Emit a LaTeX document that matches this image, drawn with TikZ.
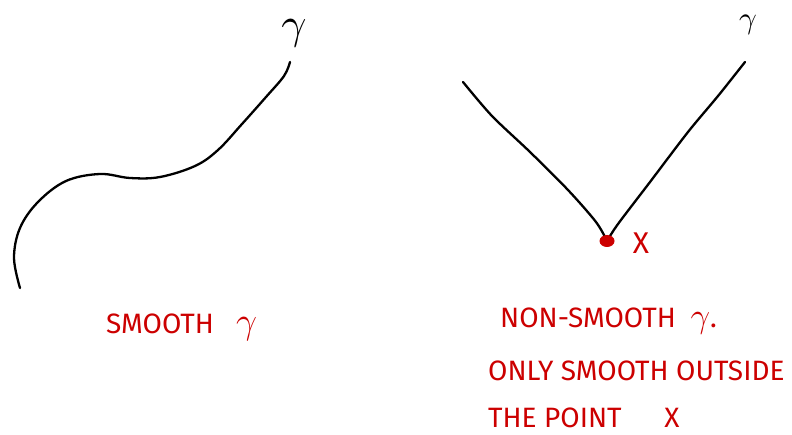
\documentclass[tikz,border=0pt]{standalone}
\usepackage{fontspec}
\usepackage{graphicx}
\setmainfont{Fira Sans}
\usetikzlibrary{calc,positioning}
\definecolor{inkred}{RGB}{204,0,0}
\newcommand{\sketchgamma}[1]{\scalebox{#1}{$\gamma$}}

\begin{document}
\begin{tikzpicture}[x=1pt,y=-1pt,line cap=round,line join=round,
  curve/.style={line width=2.3pt,black},
  note/.style={inkred,font=\fontsize{28}{30}\selectfont,anchor=west,inner sep=0pt},
  gam/.style={black,inner sep=0pt}]
\useasboundingbox (0,0) rectangle (792,435);
% smooth curve
\draw[curve] plot[smooth,tension=0.6] coordinates {(20,288) (14,258) (20,228) (38,202) (66,181) (100,174) (130,178) (160,177) (195,166) (218,150) (242,124) (266,97) (284,76) (290,62)};
\node[gam] (gamA) at (294,33) {\sketchgamma{4.4}};
% non-smooth curve, corner at x
\coordinate (corner) at (607,241);
\draw[curve] plot[smooth,tension=0.5] coordinates {(463,82) (492,116) (530,152) (568,190) (596,222) (607,241)};
\draw[curve] plot[smooth,tension=0.5] coordinates {(607,241) (618,224) (650,182) (688,132) (718,96) (745,62)};
\node[gam] (gamB) at (748,25) {\sketchgamma{3.1}};
\fill[inkred] (corner) ellipse (7.5 and 6);
\node[inkred,font=\fontsize{30}{32}\selectfont,inner sep=0pt] (ptx) at (641,243) {X};
% labels
\node[note] (lblA) at (106,327) {SMOOTH \ \ \sketchgamma{1.5}};
\node[note] (lblB) at (500,321) {NON-SMOOTH \ \sketchgamma{1.4}.};
\node[note] (lblC) at (488,371) {ONLY SMOOTH OUTSIDE};
\node[note] (lblD) at (488,418) {THE POINT \quad\ X};
\end{tikzpicture}
\end{document}
